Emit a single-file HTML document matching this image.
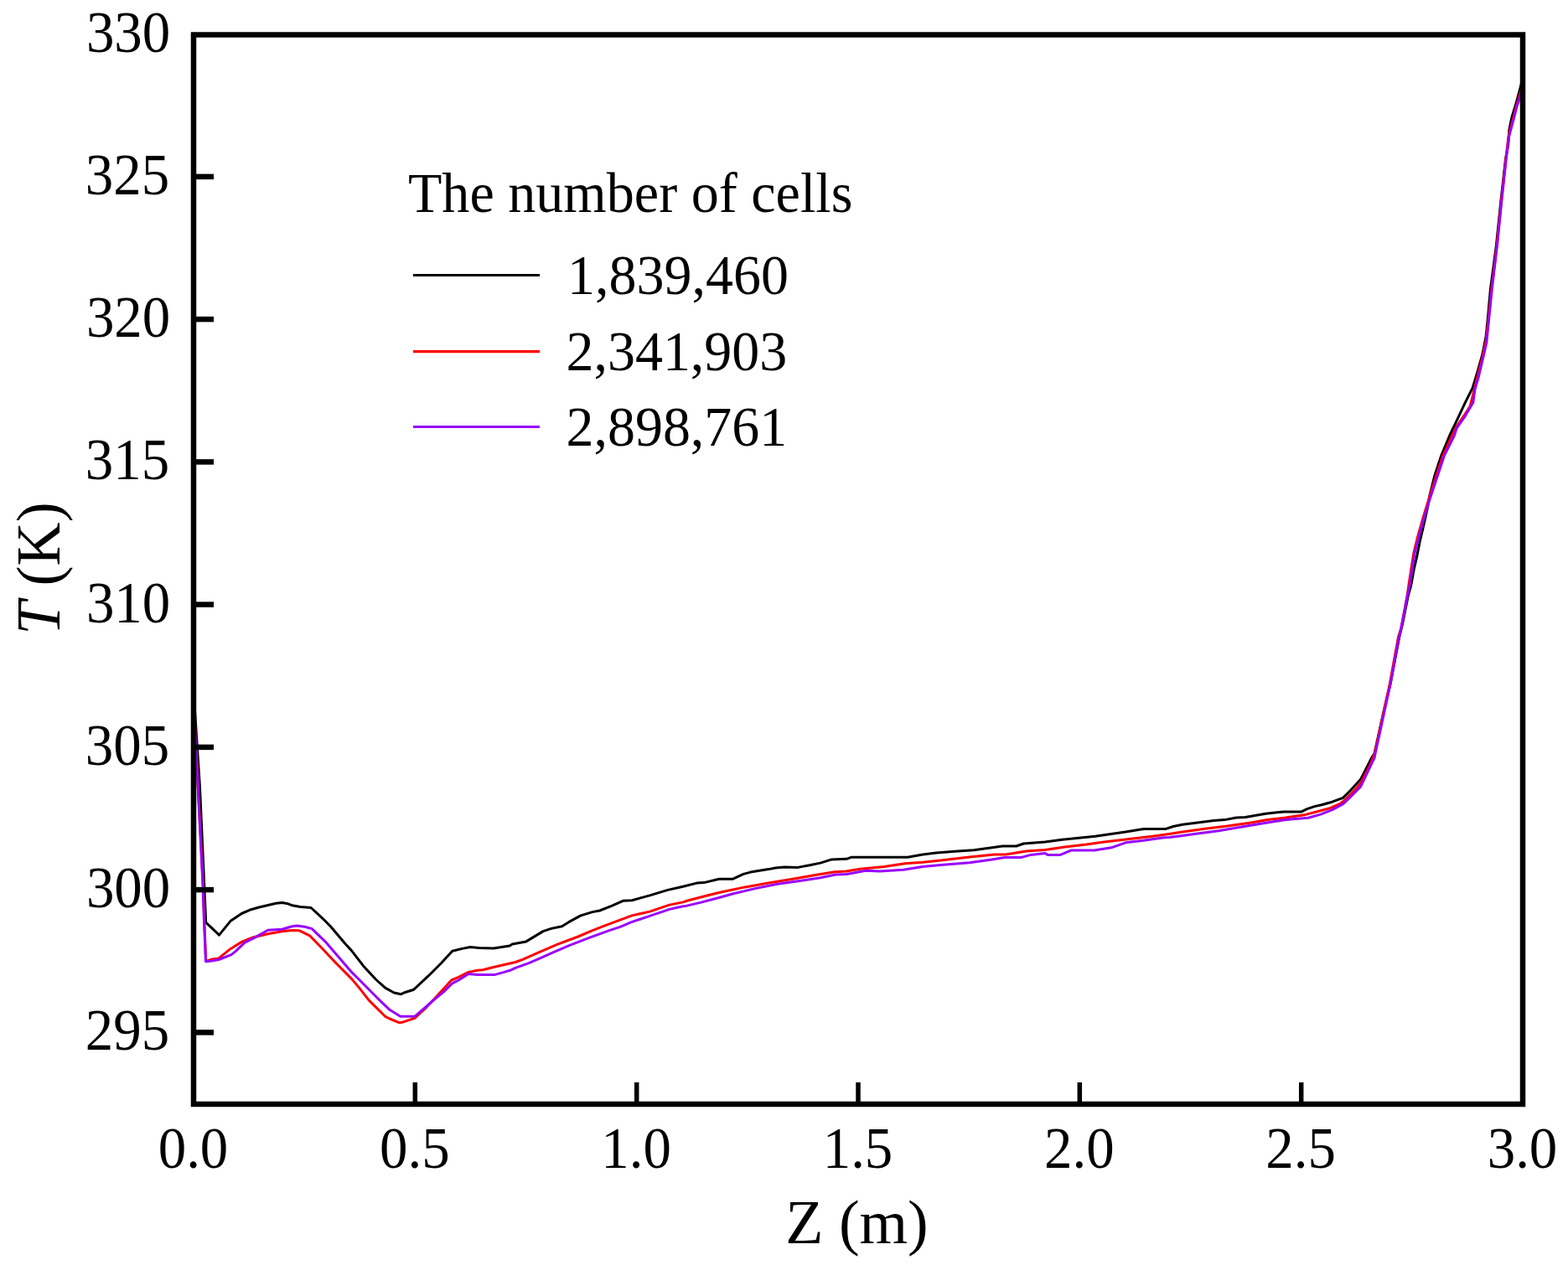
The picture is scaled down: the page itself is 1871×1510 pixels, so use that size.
<!DOCTYPE html>
<html><head><meta charset="utf-8"><title>T vs Z</title>
<style>
html,body{margin:0;padding:0;background:#fff;}
body{width:1871px;height:1510px;overflow:hidden;}
svg{display:block;}
.t{font-family:"Liberation Serif", serif;font-size:69px;fill:#000;}
.l{font-family:"Liberation Serif", serif;font-size:68px;fill:#000;}
.ax{font-family:"Liberation Serif", serif;font-size:74px;fill:#000;}
</style></head>
<body>
<svg width="1871" height="1510" viewBox="0 0 1871 1510">
<rect width="1871" height="1510" fill="#fff"/>
<polyline points="231,825 238.5,940 245.7,1101.2 261.5,1116.1 274.9,1099.6 288.3,1090.5 299.5,1085.7 309.1,1083 320.9,1080.3 329.4,1078.2 336.9,1077.6 343.3,1078.7 348.7,1080.8 358.3,1082.4 371.1,1083.5 385,1096.3 394.6,1106 411.7,1126.3 420,1135.3 433.9,1153.4 448.9,1169.5 459.6,1179.1 470.2,1185 478.3,1186.8 482,1185 493.8,1181.2 510.9,1165.2 526.9,1149.2 539.7,1135.3 552.5,1132.1 561.1,1130.5 571.8,1131.5 588.9,1132.1 608.1,1128.9 611.3,1126.9 627.8,1123.9 648.1,1111.6 657.8,1108.4 670.6,1105.7 679.1,1100.4 693,1092.9 706.9,1088.6 715.5,1087 730.4,1081.2 743.3,1075.3 754,1074.7 775.3,1068.9 796.7,1062.4 815,1058.2 831.4,1054.1 839.9,1053.6 858.1,1049.3 874.1,1049.3 887,1043.4 895.5,1041.1 916.9,1037.6 925.4,1036 936.1,1034.9 952.2,1035.4 966.1,1032.8 978.9,1030.1 991.7,1026.1 1010,1025.3 1015.7,1023.3 1083,1023.3 1101.2,1020.1 1117.2,1018 1139.7,1016.3 1162.1,1014.7 1196.3,1010.1 1212.8,1010 1221.4,1007 1247,1005.1 1269.5,1002 1306.9,998.3 1343.2,993.1 1364.6,989.4 1391.3,989.4 1400,986.5 1411,984.3 1448.4,979.4 1461.3,978.6 1475.2,976 1485.9,975.4 1510.4,971.2 1531.8,969 1552.5,969.1 1559.7,965.6 1568.6,962.6 1577,960.8 1587.7,957.8 1593.6,955.7 1602.6,952.4 1611.5,943.5 1616.9,937.5 1623.4,930.4 1626.4,925 1631.2,915.5 1636.5,904.8 1640.1,899.1 1646.2,871.3 1652.4,843.5 1659.2,815.7 1664.5,787.8 1669.8,760 1673.5,745 1680.5,710 1683.6,699.3 1687.2,679.5 1690.3,666.2 1694.2,646.4 1698.9,626.5 1703.2,607 1705.9,591.5 1711.9,567.7 1719.8,543.8 1729.7,520 1738.1,502.4 1748.3,480.6 1757.1,463.1 1762.9,444.1 1768.7,423.7 1773.1,401.9 1775.3,380 1778.5,345 1785.5,292 1791,239 1796.5,190 1799.7,172.7 1800.8,155.3 1803.8,140.5 1809.1,123.3 1814.7,102.4 1817,93.7" fill="none" stroke="#000" stroke-width="3" stroke-linejoin="round"/>
<polyline points="231,839 233.8,886 236.9,950 242.3,1056 243.8,1100 245.7,1146.6 246,1147.1 253.5,1145 261,1143.9 274.9,1132.7 288.8,1124.1 300.6,1119.3 311.2,1116.7 320.9,1114.5 336.9,1111.8 347.6,1110.5 357.2,1110.8 360.4,1112.4 370,1117.2 385,1132.7 401,1149.8 420,1168.9 428.6,1179.1 440.3,1194.1 448.9,1202.6 459.6,1213.3 464.9,1216 476.7,1220.8 479.9,1220.3 494.8,1215.4 508.7,1202.6 538.7,1170 547.2,1166.3 559,1160.4 569.7,1158.3 576.1,1157.7 591,1154 615,1148.5 623.6,1145.3 641.7,1137.3 664.2,1127.7 689.8,1118 705.9,1111.1 719.8,1105.7 732.6,1100.9 754,1092.9 775.3,1088.1 798.9,1080.1 815,1076.9 820.7,1075 838.9,1070.2 851.7,1067 861.3,1064.8 889.1,1058.9 916.9,1054.1 945.8,1049.3 975.7,1044 996,1040.8 1010,1040 1026.4,1037.2 1055.2,1034.5 1079.8,1030.8 1101.2,1029.2 1122.6,1027 1154.7,1023.3 1186.7,1020.1 1200,1019.9 1224.6,1016.1 1247,1014.5 1270.6,1011.1 1296.2,1008.1 1317.6,1005.1 1343.2,1002 1375.3,998.3 1395,995.4 1411,993.1 1437.8,989.3 1464.5,986.1 1491.2,982.2 1512.6,978.6 1534,976 1557.9,972.4 1572.8,968.5 1587.7,964.4 1599.6,959 1605.6,954.2 1614.5,945.3 1623.4,935.2 1629.4,923.8 1635.4,911.9 1638.9,902.4 1640.3,899.1 1646.4,871.3 1652.4,843.5 1658.4,815.7 1663.5,787.8 1668.6,760 1672,749.6 1679,712.1 1680.8,699.3 1683.8,679.5 1687,659.6 1691.9,639.7 1698.2,617.6 1705,595.5 1713.8,567.7 1721.8,543.8 1732.9,520 1738.1,509 1748.3,494 1754.1,485 1758.5,467.5 1762.9,450 1769,426 1773.5,405 1776.2,380 1779.8,345 1786.2,292 1791.5,239 1796.8,190 1800,163 1801.3,157.6 1805.6,141.4 1809.1,127.5 1812.2,118.2 1817,100" fill="none" stroke="#f00" stroke-width="3" stroke-linejoin="round"/>
<polyline points="231,840 233.5,886 236.6,950 242,1056 243.5,1100 245.5,1147.7 252.4,1147.1 261,1145.5 276,1139.6 281.3,1135.4 292,1125.2 302.7,1119.9 319.8,1110.2 336.9,1109.2 347.6,1106 354,1104.9 363.6,1106.2 372.2,1108.6 389.3,1125.2 420,1160.9 426.4,1167.3 447.8,1188.7 453.1,1194.1 464.9,1205.3 477.7,1213.3 494.8,1213.3 518.3,1193 530.1,1183.4 539.7,1173.8 547.2,1170 559,1162.5 569.7,1163.6 590,1163.6 601.7,1160.4 610.3,1157.7 615,1155.4 631,1149.6 644.9,1143.7 658.8,1137.3 679.1,1128.7 703.7,1119.1 727.2,1110.6 740.1,1106.3 752.9,1100.9 775.3,1093.4 798.9,1085.4 815,1081.7 818.6,1081.4 836.7,1077.1 857,1071.8 874.1,1067 900.9,1060.6 927.6,1055.2 954.3,1051.5 978.9,1047.7 997.1,1044 1010,1043.4 1015.7,1042.5 1032.8,1039.3 1049.9,1039.9 1077.7,1038.3 1101.2,1034.5 1122.6,1032.4 1156.8,1029.7 1180.3,1026.5 1197.4,1023.8 1200,1023.6 1218.2,1023.6 1229.9,1020.4 1247,1018.6 1250.2,1020.4 1265.2,1020.4 1278,1015.1 1305.8,1015.1 1326.1,1011.8 1343.2,1005.8 1364.6,1003.3 1387.1,1000.1 1395,999.5 1405.7,998.2 1427.1,995.2 1453.8,991.8 1480.5,987.2 1507.2,982.7 1534,978.6 1560.9,976.3 1575.8,972.1 1590.7,966.1 1602.6,959.6 1611.5,951.3 1623.4,939.3 1629.4,926.8 1636.5,911.9 1640,904.8 1641.1,899.1 1647.2,871.3 1653.2,843.5 1659.2,815.7 1664.3,787.8 1669.4,760 1671.9,749.6 1679.1,712.1 1682,699.3 1685,679.5 1688.3,659.6 1693.2,639.7 1699.4,617.6 1706.2,595.5 1715.4,567.7 1723.4,543.8 1735.3,520 1738.1,511.2 1748.3,496.6 1757.8,480.6 1760,464.5 1764.3,450 1769.4,428.1 1773.8,409.2 1776.7,380 1780.3,344.8 1786.6,291.9 1791.9,238.9 1797.2,190.2 1800.5,163 1802,157.6 1806.4,141.4 1809.9,127.5 1813,118.2 1817,102" fill="none" stroke="#90f" stroke-width="3" stroke-linejoin="round"/>
<rect x="231" y="41.5" width="1586" height="1276.5" fill="none" stroke="#000" stroke-width="6.5"/>
<line x1="231" y1="1232.4" x2="255" y2="1232.4" stroke="#000" stroke-width="6.5"/>
<line x1="231" y1="1062.1" x2="255" y2="1062.1" stroke="#000" stroke-width="6.5"/>
<line x1="231" y1="891.9" x2="255" y2="891.9" stroke="#000" stroke-width="6.5"/>
<line x1="231" y1="721.6" x2="255" y2="721.6" stroke="#000" stroke-width="6.5"/>
<line x1="231" y1="551.4" x2="255" y2="551.4" stroke="#000" stroke-width="6.5"/>
<line x1="231" y1="381.1" x2="255" y2="381.1" stroke="#000" stroke-width="6.5"/>
<line x1="231" y1="210.9" x2="255" y2="210.9" stroke="#000" stroke-width="6.5"/>
<line x1="495.3" y1="1318" x2="495.3" y2="1292" stroke="#000" stroke-width="5.5"/>
<line x1="759.7" y1="1318" x2="759.7" y2="1292" stroke="#000" stroke-width="5.5"/>
<line x1="1024.0" y1="1318" x2="1024.0" y2="1292" stroke="#000" stroke-width="5.5"/>
<line x1="1288.3" y1="1318" x2="1288.3" y2="1292" stroke="#000" stroke-width="5.5"/>
<line x1="1552.7" y1="1318" x2="1552.7" y2="1292" stroke="#000" stroke-width="5.5"/>
<text transform="translate(202.1,1253.3) scale(0.97,1)" text-anchor="end" class="t">295</text>
<text transform="translate(203.3,1083.0) scale(0.97,1)" text-anchor="end" class="t">300</text>
<text transform="translate(202.1,912.8) scale(0.97,1)" text-anchor="end" class="t">305</text>
<text transform="translate(203.3,742.5) scale(0.97,1)" text-anchor="end" class="t">310</text>
<text transform="translate(202.1,572.3) scale(0.97,1)" text-anchor="end" class="t">315</text>
<text transform="translate(203.3,402.0) scale(0.97,1)" text-anchor="end" class="t">320</text>
<text transform="translate(202.1,231.8) scale(0.97,1)" text-anchor="end" class="t">325</text>
<text transform="translate(203.3,61.5) scale(0.97,1)" text-anchor="end" class="t">330</text>
<text transform="translate(230.5,1393.6) scale(0.97,1)" text-anchor="middle" class="t">0.0</text>
<text transform="translate(494.8,1393.6) scale(0.97,1)" text-anchor="middle" class="t">0.5</text>
<text transform="translate(759.2,1393.6) scale(0.97,1)" text-anchor="middle" class="t">1.0</text>
<text transform="translate(1023.5,1393.6) scale(0.97,1)" text-anchor="middle" class="t">1.5</text>
<text transform="translate(1287.8,1393.6) scale(0.97,1)" text-anchor="middle" class="t">2.0</text>
<text transform="translate(1552.2,1393.6) scale(0.97,1)" text-anchor="middle" class="t">2.5</text>
<text transform="translate(1816.5,1393.6) scale(0.97,1)" text-anchor="middle" class="t">3.0</text>
<text x="1022.5" y="1484" text-anchor="middle" class="ax">Z (m)</text>
<text transform="translate(70.6,678.5) rotate(-90) scale(0.975,1)" text-anchor="middle" class="ax"><tspan font-style="italic">T</tspan> (K)</text>
<text transform="translate(487,253.4) scale(0.972,1)" class="l">The number of cells</text>
<line x1="493" y1="328.5" x2="644" y2="328.5" stroke="#000" stroke-width="3.2"/>
<text transform="translate(677.1,351.1) scale(0.97,1)" class="l">1,839,460</text>
<line x1="493" y1="419.6" x2="644" y2="419.6" stroke="#f00" stroke-width="3.2"/>
<text transform="translate(675.5,441.6) scale(0.97,1)" class="l">2,341,903</text>
<line x1="493" y1="509.5" x2="644" y2="509.5" stroke="#90f" stroke-width="3.2"/>
<text transform="translate(675.5,532.4) scale(0.97,1)" class="l">2,898,761</text>
</svg>
</body></html>
